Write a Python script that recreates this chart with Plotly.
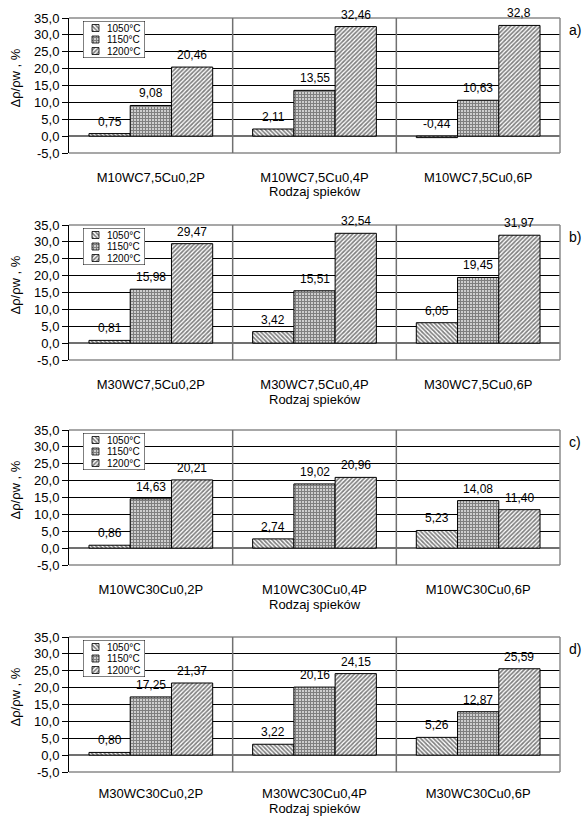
import plotly.graph_objects as go

# ---------------------------------------------------------------- data
TEMPERATURES = ["1050°C", "1150°C", "1200°C"]

CATEGORIES_A = ["M10WC7,5Cu0,2P", "M10WC7,5Cu0,4P", "M10WC7,5Cu0,6P"]
CATEGORIES_B = ["M30WC7,5Cu0,2P", "M30WC7,5Cu0,4P", "M30WC7,5Cu0,6P"]
CATEGORIES_C = ["M10WC30Cu0,2P", "M10WC30Cu0,4P", "M10WC30Cu0,6P"]
CATEGORIES_D = ["M30WC30Cu0,2P", "M30WC30Cu0,4P", "M30WC30Cu0,6P"]

# values as printed on the bars (decimal comma), one list per temperature
A_1050 = ["0,75", "2,11", "-0,44"]
A_1150 = ["9,08", "13,55", "10,63"]
A_1200 = ["20,46", "32,46", "32,8"]

B_1050 = ["0,81", "3,42", "6,05"]
B_1150 = ["15,98", "15,51", "19,45"]
B_1200 = ["29,47", "32,54", "31,97"]

C_1050 = ["0,86", "2,74", "5,23"]
C_1150 = ["14,63", "19,02", "14,08"]
C_1200 = ["20,21", "20,96", "11,40"]

D_1050 = ["0,80", "3,22", "5,26"]
D_1150 = ["17,25", "20,16", "12,87"]
D_1200 = ["21,37", "24,15", "25,59"]

Y_TICKS = [-5, 0, 5, 10, 15, 20, 25, 30, 35]
Y_TICK_LABELS = ["-5,0", "0,0", "5,0", "10,0", "15,0", "20,0", "25,0", "30,0", "35,0"]

PANEL_LETTERS = ["a)", "b)", "c)", "d)"]
X_TITLE = "Rodzaj spieków"
Y_TITLE = "Δρ/ρw , %"

PANELS = [
    (CATEGORIES_A, [A_1050, A_1150, A_1200]),
    (CATEGORIES_B, [B_1050, B_1150, B_1200]),
    (CATEGORIES_C, [C_1050, C_1150, C_1200]),
    (CATEGORIES_D, [D_1050, D_1150, D_1200]),
]

# ---------------------------------------------------------------- layout geometry
W, H = 584, 816
ML, MR, MT, MB = 69, 24, 18, 44
PW, PH = W - ML - MR, H - MT - MB
PANEL_TOP = [18, 225, 430, 637]
PANEL_H = 135
BAR_W = 0.252
FONT = "Arial, 'Liberation Sans', sans-serif"

PATTERNS = [
    dict(shape="\\", fgcolor="black", bgcolor="white", size=3, solidity=0.55),
    dict(shape="+", fgcolor="black", bgcolor="white", size=3, solidity=0.7),
    dict(shape="/", fgcolor="black", bgcolor="white", size=3, solidity=0.55),
]

# legend box (pixel offsets inside a panel)
LEG_X0, LEG_X1 = 83, 145
LEG_TOP, LEG_BOT = 3, 40


def to_num(s):
    return float(s.replace(",", "."))


def ypaper(px):
    return (H - MB - px) / PH


def xpaper(px):
    return (px - ML) / PW


fig = go.Figure()
shapes = []
annotations = []
layout_axes = {}

for k, (cats, series) in enumerate(PANELS):
    n = k + 1
    xa = "x" if n == 1 else f"x{n}"
    ya = "y" if n == 1 else f"y{n}"
    top = PANEL_TOP[k]
    bot = top + PANEL_H
    last = k == len(PANELS) - 1

    for j, labels in enumerate(series):
        vals = [to_num(s) for s in labels]
        xs = [i + (j - 1) * BAR_W for i in range(len(cats))]
        fig.add_trace(go.Bar(
            x=xs, y=vals, width=BAR_W, xaxis=xa, yaxis=ya,
            marker=dict(color="white", line=dict(color="black", width=1),
                        pattern=PATTERNS[j]),
            name=TEMPERATURES[j], showlegend=False, hoverinfo="skip",
        ))
        for x, v, s in zip(xs, vals, labels):
            annotations.append(dict(
                x=x, y=max(v, 0), xref=xa, yref=ya, text=s, showarrow=False,
                yanchor="bottom", yshift=3, font=dict(size=12, color="black"),
            ))

    layout_axes["xaxis" if n == 1 else f"xaxis{n}"] = dict(
        domain=[0, 1], anchor=ya, range=[-0.5, 2.5],
        tickvals=list(range(len(cats))), ticktext=cats,
        showgrid=False, zeroline=False, showline=False, ticks="",
        ticklabelstandoff=12 if last else 15,
        tickfont=dict(size=13, color="black"),
        automargin=False, fixedrange=True,
    )
    layout_axes["yaxis" if n == 1 else f"yaxis{n}"] = dict(
        domain=[ypaper(bot), ypaper(top)], anchor=xa, range=[-5, 35],
        tickvals=Y_TICKS, ticktext=Y_TICK_LABELS,
        showgrid=True, gridcolor="black", gridwidth=1,
        zeroline=True, zerolinecolor="#707070", zerolinewidth=1.5,
        showline=True, linecolor="black", linewidth=1,
        ticks="outside", ticklen=6, tickcolor="black",
        tickfont=dict(size=13, color="black"),
        automargin=False, fixedrange=True,
    )

    # top, right and bottom frame of the plot area
    for (x0, y0, x1, y1) in [(0, 1, 1, 1), (1, 0, 1, 1), (0, 0, 1, 0)]:
        shapes.append(dict(type="line", xref=f"{xa} domain", yref=f"{ya} domain",
                           x0=x0, y0=y0, x1=x1, y1=y1,
                           line=dict(color="#8a8a8a", width=1.5), layer="above"))
    # separators between sample groups
    for xs in [0.5, 1.5]:
        shapes.append(dict(type="line", xref=xa, yref=f"{ya} domain",
                           x0=xs, x1=xs, y0=0, y1=1,
                           line=dict(color="#707070", width=1.5), layer="above"))

    # axis titles and panel letter
    annotations.append(dict(
        x=xpaper(15), y=ypaper(top + PANEL_H / 2 - 7), xref="paper", yref="paper",
        text=Y_TITLE, textangle=-90, showarrow=False, xanchor="center", yanchor="middle",
        font=dict(size=13, color="black"),
    ))
    annotations.append(dict(
        x=0.5, y=ypaper(min(bot + 39, H - 8)), xref="paper", yref="paper", text=X_TITLE,
        showarrow=False, xanchor="center", yanchor="middle",
        font=dict(size=13, color="black"),
    ))
    annotations.append(dict(
        x=xpaper(567), y=ypaper(top + 12), xref="paper", yref="paper",
        text=PANEL_LETTERS[k], showarrow=False, xanchor="left", yanchor="middle",
        font=dict(size=14, color="black"),
    ))

    # legend box drawn on its own small axes
    m = k + 5
    lxa, lya = f"x{m}", f"y{m}"
    bw, bh = LEG_X1 - LEG_X0, LEG_BOT - LEG_TOP
    layout_axes[f"xaxis{m}"] = dict(
        domain=[xpaper(LEG_X0), xpaper(LEG_X1)], anchor=lya, range=[0, bw],
        visible=False, fixedrange=True,
    )
    layout_axes[f"yaxis{m}"] = dict(
        domain=[ypaper(top + LEG_BOT), ypaper(top + LEG_TOP)], anchor=lxa,
        range=[0, bh], visible=False, fixedrange=True,
    )
    fig.add_trace(go.Scatter(
        x=[0, bw, bw, 0, 0], y=[0, 0, bh, bh, 0], xaxis=lxa, yaxis=lya,
        mode="lines", fill="toself", fillcolor="white",
        line=dict(color="black", width=1), cliponaxis=False,
        showlegend=False, hoverinfo="skip",
    ))
    row_y = [bh - 7, bh - 18.5, bh - 30]
    for j, temp in enumerate(TEMPERATURES):
        cy = row_y[j]
        fig.add_trace(go.Scatter(
            x=[9, 16, 16, 9, 9], y=[cy - 3.5, cy - 3.5, cy + 3.5, cy + 3.5, cy - 3.5],
            xaxis=lxa, yaxis=lya, mode="lines", fill="toself",
            fillcolor="white", fillpattern=PATTERNS[j],
            line=dict(color="black", width=0.8), cliponaxis=False,
            showlegend=False, hoverinfo="skip",
        ))
        annotations.append(dict(
            x=22, y=cy, xref=lxa, yref=lya, text=temp, showarrow=False,
            xanchor="left", yanchor="middle", font=dict(size=10, color="black"),
        ))

fig.update_layout(
    width=W, height=H,
    margin=dict(l=ML, r=MR, t=MT, b=MB, autoexpand=False),
    paper_bgcolor="white", plot_bgcolor="white",
    font=dict(family=FONT, color="black"),
    separators=", ",
    showlegend=False,
    shapes=shapes, annotations=annotations,
    **layout_axes,
)

fig.write_html("out.html")
